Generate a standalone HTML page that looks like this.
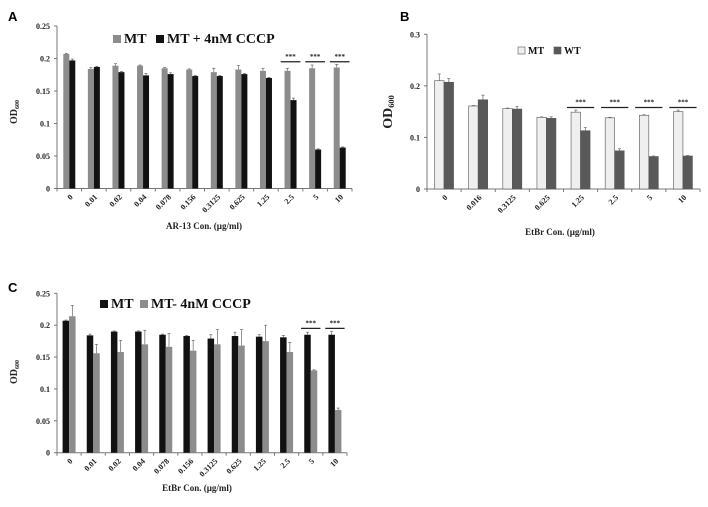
<!DOCTYPE html>
<html><head><meta charset="utf-8">
<style>
html,body{margin:0;padding:0;background:#fff;}
svg{display:block;font-family:"Liberation Serif",serif;font-weight:bold;}
</style></head>
<body>
<svg id="fig" width="708" height="507" viewBox="0 0 708 507">
<text x="8" y="21" font-family="Liberation Sans" font-size="13" font-weight="bold">A</text>
<text x="400" y="21" font-family="Liberation Sans" font-size="13" font-weight="bold">B</text>
<text x="8" y="292" font-family="Liberation Sans" font-size="13" font-weight="bold">C</text>
</svg>
<script>
// Panel A data
const catsA = ["0","0.01","0.02","0.04","0.078","0.156","0.3125","0.625","1.25","2.5","5","10"];
const aMT = [0.207,0.184,0.189,0.189,0.185,0.183,0.179,0.183,0.181,0.181,0.185,0.186];
const aMTerr = [0.001,0.002,0.003,0.001,0.001,0.001,0.006,0.006,0.004,0.004,0.005,0.005];
const aCCCP = [0.197,0.187,0.179,0.174,0.176,0.173,0.173,0.176,0.170,0.136,0.060,0.063];
const aCCCPerr = [0.002,0.001,0.001,0.003,0.002,0.001,0.001,0.001,0.001,0.003,0.001,0.001];
const ticksA = [0,0.05,0.1,0.15,0.2,0.25];
const tickLabelsA = ["0","0.05","0.1","0.15","0.2","0.25"];
const sigA = [9,10,11];
// Panel B data
const catsB = ["0","0.016","0.3125","0.625","1.25","2.5","5","10"];
const bMT = [0.210,0.161,0.156,0.139,0.149,0.138,0.143,0.150];
const bMTerr = [0.013,0.001,0.001,0.001,0.004,0.001,0.001,0.003];
const bWT = [0.207,0.173,0.155,0.137,0.113,0.074,0.063,0.064];
const bWTerr = [0.007,0.009,0.005,0.003,0.006,0.004,0.001,0.001];
const ticksB = [0,0.1,0.2,0.3];
const tickLabelsB = ["0","0.1","0.2","0.3"];
const sigB = [4,5,6,7];
// Panel C data
const catsC = ["0","0.01","0.02","0.04","0.078","0.156","0.3125","0.625","1.25","2.5","5","10"];
const cMT = [0.207,0.184,0.190,0.190,0.185,0.183,0.179,0.183,0.182,0.181,0.185,0.185];
const cMTerr = [0.001,0.002,0.001,0.001,0.001,0.001,0.006,0.006,0.003,0.003,0.004,0.005];
const cCCCP = [0.214,0.156,0.158,0.170,0.166,0.160,0.170,0.168,0.175,0.158,0.129,0.067];
const cCCCPerr = [0.017,0.014,0.018,0.022,0.021,0.016,0.023,0.025,0.025,0.015,0.001,0.003];
const ticksC = [0,0.05,0.1,0.15,0.2,0.25];
const tickLabelsC = ["0","0.05","0.1","0.15","0.2","0.25"];
const sigC = [10,11];

const NS="http://www.w3.org/2000/svg";
const svg=document.getElementById('fig');
function mk(tag,attrs,parent){const e=document.createElementNS(NS,tag);for(const k in attrs)e.setAttribute(k,attrs[k]);(parent||svg).appendChild(e);return e;}

function panel(o){
  const g=mk('g',{});
  
  
  const yS=v=>o.y0-(v/o.ymax)*(o.y0-o.ytop);
  const gw=(o.x1-o.x0)/o.cats.length;
  const xC=i=>o.x0+gw*(i+0.5);
  // axes
  const ya=mk('line',{x1:o.x0,y1:o.ytop,x2:o.x0,y2:o.y0,stroke:'#777','stroke-width':1},g);
  
  
  const xa=mk('line',{x1:o.x0,y1:o.y0,x2:o.x1,y2:o.y0,stroke:'#777','stroke-width':1},g);
  
  
  o.ticks.forEach((t,i)=>{
    const y=yS(t);
    mk('line',{x1:o.x0-3,y1:y,x2:o.x0,y2:y,stroke:'#777'},g);
    const tl=mk('text',{x:o.x0-7,y:y+3,'font-size':o.fs,'text-anchor':'end',fill:'#222'},g);
    tl.textContent=o.tickLabels[i];
    
    
  });
  for(let i=0;i<=o.cats.length;i++){const x=o.x0+gw*i;mk('line',{x1:x,y1:o.y0,x2:x,y2:o.y0+3,stroke:'#777'},g);}
  o.cats.forEach((c,i)=>{
    const cx=xC(i);
    const t=mk('text',{x:cx+4,y:o.y0+9,'font-size':o.fs,'text-anchor':'end',fill:'#222',transform:`rotate(-45 ${cx+4} ${o.y0+9})`},g);
    t.textContent=c;
    
    
    [[o.s1,o.e1,o.c1,-1],[o.s2,o.e2,o.c2,0]].forEach(([s,e,col,off])=>{
      const bx=cx+off*o.bw;
      const y=yS(s[i]);
      const r=mk('rect',{x:bx,y:y,width:o.bw,height:o.y0-y,fill:col,stroke:o.stroke||'none','stroke-width':0.6},g);
      
      
      const ex=bx+o.bw/2, ey=yS(s[i]+e[i]);
      mk('line',{x1:ex,y1:y,x2:ex,y2:ey,stroke:'#666','stroke-width':0.7},g);
      mk('line',{x1:ex-1.5,y1:ey,x2:ex+1.5,y2:ey,stroke:'#666','stroke-width':0.7},g);
    });
  });
  o.sig.forEach(i=>{
    const cx=xC(i);const y=yS(o.sigY);
    const l=mk('line',{x1:cx-gw*0.4,y1:y,x2:cx+gw*0.4,y2:y,stroke:'#222','stroke-width':1.2},g);
    
    
    const t=mk('text',{x:cx,y:y-3,'font-size':7,'text-anchor':'middle',fill:'#222'},g);
    t.textContent='***';
    
    
  });
  const xt=mk('text',{x:o.xtX,y:o.xtY,'font-size':o.fs+1,'text-anchor':'middle',fill:'#222'},g);
  xt.textContent=o.xtitle;
  
  
  const yt=mk('text',{x:o.ytX,y:o.ytY,'font-size':o.ytfs,'text-anchor':'middle',fill:'#222',transform:`rotate(-90 ${o.ytX} ${o.ytY})`},g);
  yt.innerHTML='OD<tspan font-size="'+(o.ytfs*0.6)+'" dy="2">600</tspan>';
  
  
  // legend
  o.legend.forEach((L,k)=>{
    mk('rect',{x:L.x,y:o.legY-L.sz,width:L.sz,height:L.sz,fill:L.col,stroke:o.stroke||'none','stroke-width':0.6},g);
    const t=mk('text',{x:L.x+L.sz+3,y:o.legY,'font-size':o.legfs,fill:'#111'},g);
    t.textContent=L.label;
    
    
  });
}

panel({name:'panel-a-chart',cats:catsA,s1:aMT,e1:aMTerr,s2:aCCCP,e2:aCCCPerr,c1:'#8c8c8c',c2:'#111',
  x0:57,x1:352,y0:188.5,ytop:26,ymax:0.25,ticks:ticksA,tickLabels:tickLabelsA,bw:6,fs:8,sig:sigA,sigY:0.195,
  xtitle:'AR-13 Con. (µg/ml)',xtX:204,xtY:229,ytX:17,ytY:112,ytfs:10,legY:43,legfs:14,
  legend:[{x:113,sz:8,col:'#8c8c8c',label:'MT'},{x:156,sz:8,col:'#111',label:'MT + 4nM CCCP'}]});
panel({name:'panel-b-chart',cats:catsB,s1:bMT,e1:bMTerr,s2:bWT,e2:bWTerr,c1:'#efefef',c2:'#595959',stroke:'#555',
  x0:427,x1:700,y0:189,ytop:34.3,ymax:0.3,ticks:ticksB,tickLabels:tickLabelsB,bw:9.5,fs:8,sig:sigB,sigY:0.158,
  xtitle:'EtBr Con. (µg/ml)',xtX:560,xtY:235,ytX:392,ytY:112,ytfs:14,legY:54,legfs:10,
  legend:[{x:518,sz:7,col:'#efefef',label:'MT'},{x:554,sz:7,col:'#595959',label:'WT'}]});
panel({name:'panel-c-chart',cats:catsC,s1:cMT,e1:cMTerr,s2:cCCCP,e2:cCCCPerr,c1:'#111',c2:'#8c8c8c',
  x0:57,x1:347,y0:452.7,ytop:293.3,ymax:0.25,ticks:ticksC,tickLabels:tickLabelsC,bw:6.5,fs:8,sig:sigC,sigY:0.195,
  xtitle:'EtBr Con. (µg/ml)',xtX:197,xtY:491,ytX:17,ytY:372,ytfs:10,legY:308,legfs:14,
  legend:[{x:100,sz:8,col:'#111',label:'MT'},{x:140,sz:8,col:'#8c8c8c',label:'MT- 4nM CCCP'}]});
</script>
</body></html>
